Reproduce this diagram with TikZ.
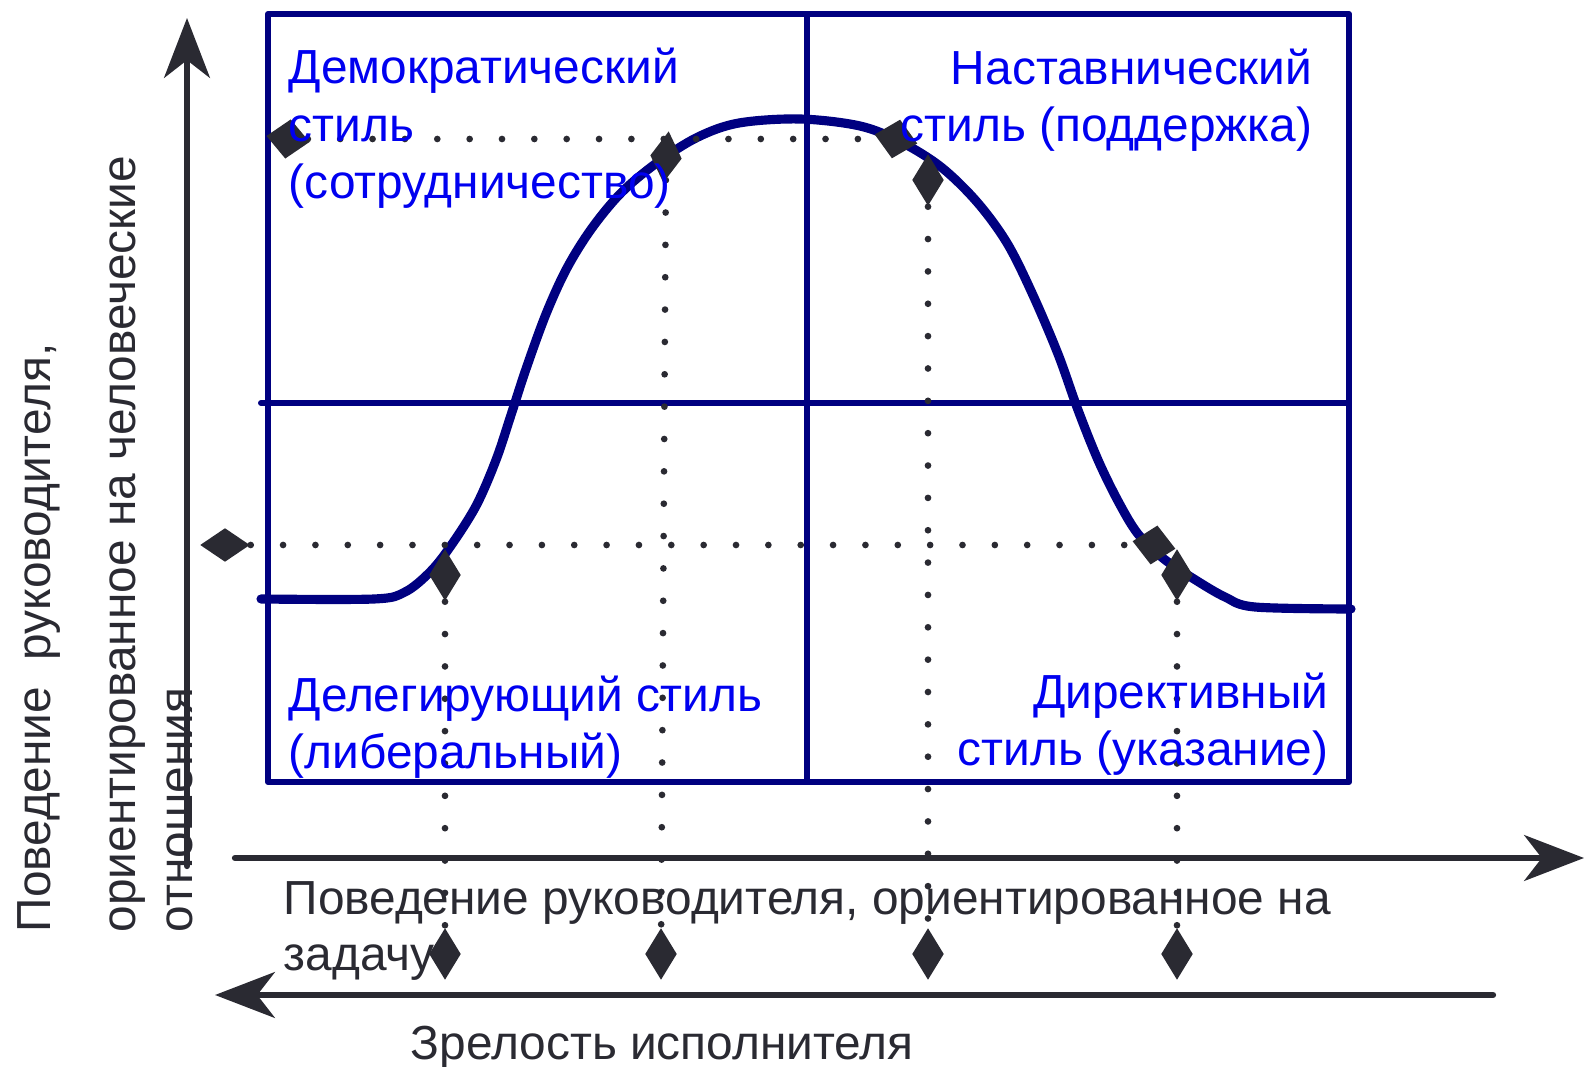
\documentclass[tikz,border=0pt]{standalone}
\usepackage{fontspec}
\setmainfont{Liberation Sans}
\usepackage{tikz}
\usetikzlibrary{arrows.meta,positioning,shapes.geometric}
\definecolor{framenavy}{RGB}{0,0,128}
\definecolor{labelblue}{RGB}{0,0,240}
\definecolor{inkgray}{RGB}{42,42,50}

\begin{document}
\begin{tikzpicture}[x=0.01cm,y=-0.01cm,
    line cap=round,line join=round,
    frame/.style={draw=framenavy,line width=1.7pt},
    curve/.style={draw=framenavy,line width=2.6pt},
    axis/.style={draw=inkgray,line width=1.8pt,-{Stealth[length=17pt,width=13pt,inset=5pt]}},
    guide/.style={draw=inkgray,line width=1.9pt,dash pattern=on 0pt off 9.2pt},
    tallmark/.style={diamond,fill=inkgray,inner sep=0pt,minimum width=0.32cm,minimum height=0.52cm},
    widemark/.style={diamond,fill=inkgray,inner sep=0pt,minimum width=0.50cm,minimum height=0.34cm},
    squaremark/.style={diamond,fill=inkgray,inner sep=0pt,minimum width=0.44cm,minimum height=0.40cm},
    styletext/.style={inner sep=0pt,text=labelblue,font=\fontsize{13.6}{16.4}\selectfont},
    axistext/.style={inner sep=0pt,text=inkgray,font=\fontsize{13.6}{16}\selectfont}]
  \useasboundingbox (0,0) rectangle (1587,1067);

  \draw[frame] (268,14) rectangle (1349,782);
  \draw[frame] (807,14) -- (807,782);
  \draw[frame] (261,403) -- (1349,403);

  \draw[curve] plot[smooth,tension=0.55] coordinates {(261,599) (374,599) (405,592) (430,572)
    (450,547) (476,506) (496,460) (511,415) (526,369) (546,314) (567,268) (592,228) (622,192)
    (658,162) (698,137) (739,123) (800,119) (860,126) (901,142) (941,167) (977,202) (1007,243)
    (1032,293) (1058,354) (1078,410) (1098,460) (1118,501) (1138,534) (1164,559) (1194,579)
    (1225,597) (1255,607) (1351,609)};

  \coordinate (yb) at (187,866);
  \coordinate (yt) at (187,18);
  \coordinate (xl) at (235,858);
  \coordinate (xr) at (1584,858);
  \coordinate (ml) at (1493,995);
  \coordinate (mr) at (215,995);
  \draw[axis] (yb) -- (yt);
  \draw[axis] (xl) -- (xr);
  \draw[axis] (ml) -- (mr);

  \node[squaremark,rotate=-8] (hiL) at (288,139) {};
  \node[squaremark,rotate=-12] (hiR) at (896,139) {};
  \node[widemark] (loL) at (225,545) {};
  \node[squaremark,rotate=-10] (loR) at (1154,545) {};
  \node[tallmark] (cA) at (445,575) {};
  \node[tallmark,rotate=-6] (cB) at (666,157) {};
  \node[tallmark] (cC) at (928,180) {};
  \node[tallmark] (cD) at (1177,575) {};
  \node[tallmark] (bA) at (445,954) {};
  \node[tallmark] (bB) at (661,954) {};
  \node[tallmark] (bC) at (928,954) {};
  \node[tallmark] (bD) at (1177,954) {};

  \draw[guide] (hiL) -- (hiR);
  \draw[guide] (loL) -- (loR);
  \foreach \a/\b in {cA/bA,cB/bB,cC/bC,cD/bD}
    \draw[guide] (\a) -- (\b);

  \node[styletext,align=left,anchor=base west] (demo) at (288,199)
    {Демократический\\стиль\\(сотрудничество)};
  \node[styletext,align=right,anchor=base east] (mentor) at (1313,142)
    {Наставнический\\стиль (поддержка)};
  \node[styletext,align=left,anchor=base west] (deleg) at (288,769)
    {Делегирующий стиль\\(либеральный)};
  \node[styletext,align=right,anchor=base east] (direct) at (1329,766)
    {Директивный\\стиль (указание)};

  \node[axistext,align=left,anchor=base west] (taskl) at (283,971)
    {Поведение руководителя, ориентированное на\\задачу};
  \node[axistext,anchor=base west] (maturl) at (410,1059) {Зрелость исполнителя};
  \node[axistext,rotate=90,anchor=base west] (relA) at (51,933) {Поведение\ \ руководителя,};
  \node[axistext,rotate=90,anchor=base west] (relB) at (135,933) {ориентированное на человеческие};
  \node[axistext,rotate=90,anchor=base west] (relC) at (192,933) {отношения};
\end{tikzpicture}
\end{document}
